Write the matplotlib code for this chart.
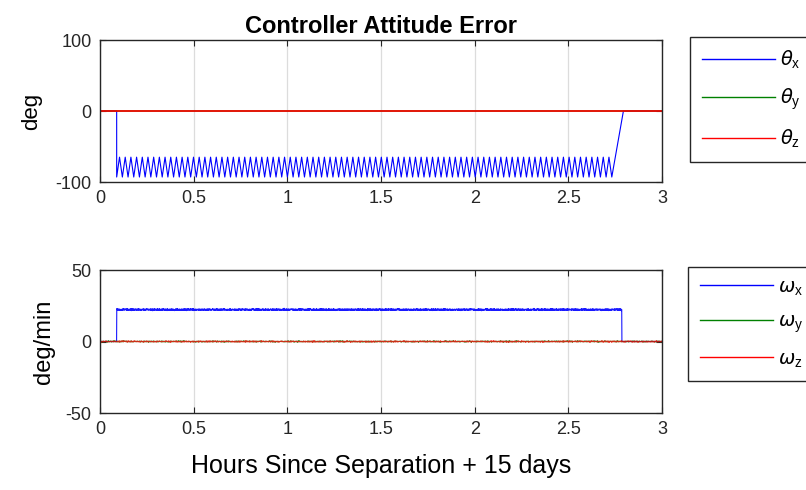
import numpy as np
import matplotlib
matplotlib.use("Agg")
import matplotlib.pyplot as plt

plt.rcParams['font.family'] = ['Liberation Sans', 'DejaVu Sans']
plt.rcParams['mathtext.fontset'] = 'custom'
plt.rcParams['mathtext.rm'] = 'Liberation Sans'
plt.rcParams['mathtext.it'] = 'DejaVu Sans:italic'

# ---- data ----
title = "Controller Attitude Error"
xlabel = "Hours Since Separation + 15 days"
x_ticks = [0, 0.5, 1, 1.5, 2, 2.5, 3]
x_tick_labels = ["0", "0.5", "1", "1.5", "2", "2.5", "3"]
att_ticks = [-100, 0, 100]
rate_ticks = [-50, 0, 50]

# slew window (hours)
slew_start = 0.089
slew_hold_end = 2.732
slew_end = 2.794
rate_end = 2.785

# theta_x limit cycle band (deg) and number of cycles
theta_x_low = -93.0
theta_x_high = -65.0
theta_x_cycles = 87

# commanded rate plateau (deg/min)
omega_x_level = 22.3
omega_noise = 0.4

# ---- build series ----
t = np.linspace(0, 3, 6001)

# attitude error about x: zero, step to the band, zig-zag, ramp back to zero
turn_t = np.linspace(slew_start, slew_hold_end, 2 * theta_x_cycles + 1)
turn_v = np.where(np.arange(turn_t.size) % 2 == 0, theta_x_low, theta_x_high)
theta_t = np.concatenate([[0, slew_start], turn_t, [slew_end, 3.0]])
theta_v = np.concatenate([[0, 0], turn_v, [0, 0]])
theta_y = np.zeros_like(t)
theta_z = np.zeros_like(t)

rng = np.random.default_rng(3)
on = (t >= slew_start) & (t <= rate_end)
omega_x = np.where(on, omega_x_level, 0.0) + rng.normal(0, omega_noise * 0.6, t.size) * on
omega_y = rng.normal(0, omega_noise * 0.5, t.size)
omega_z = rng.normal(0, omega_noise * 0.5, t.size)

# ---- figure ----
W, H = 806, 490
fig = plt.figure(figsize=(W / 100, H / 100), dpi=100)
blue, green, red = (0, 0, 1), (0, 0.5, 0), (1, 0, 0)
edge = '#262626'

def style(ax, yticks, ylim):
    ax.set_xlim(0, 3)
    ax.set_ylim(*ylim)
    ax.set_xticks(x_ticks)
    ax.set_xticklabels(x_tick_labels)
    ax.set_yticks(yticks)
    ax.set_yticklabels([str(v) for v in yticks])
    ax.tick_params(direction='in', top=True, right=True, length=4,
                   labelsize=13, colors=edge, pad=6)
    ax.grid(axis='x', color='#dcdcdc', linewidth=0.9)
    ax.set_axisbelow(True)
    for s in ax.spines.values():
        s.set_color(edge)
        s.set_linewidth(1.0)

ax1 = fig.add_axes([100 / W, 1 - 182 / H, 562 / W, 142 / H])
l1, = ax1.plot(theta_t, theta_v, color=blue, lw=0.8, label=r'$\theta_\mathrm{x}$')
l2, = ax1.plot(t, theta_y, color=green, lw=1.0, label=r'$\theta_\mathrm{y}$')
l3, = ax1.plot(t, theta_z, color=red, lw=1.2, label=r'$\theta_\mathrm{z}$')
style(ax1, att_ticks, (-100, 100))
ax1.set_ylabel("deg", fontsize=16, labelpad=10)
ax1.set_title(title, fontsize=17, fontweight='bold', pad=5)

ax2 = fig.add_axes([100 / W, 1 - 413 / H, 562 / W, 143 / H])
m1, = ax2.plot(t, omega_x, color=blue, lw=0.8, alpha=0.9, label=r'$\omega_\mathrm{x}$')
m2, = ax2.plot(t, omega_y, color=green, lw=0.6, alpha=0.7, label=r'$\omega_\mathrm{y}$')
m3, = ax2.plot(t, omega_z, color=red, lw=0.6, alpha=0.7, label=r'$\omega_\mathrm{z}$')
style(ax2, rate_ticks, (-50, 50))
ax2.set_ylabel("deg/min", fontsize=17, labelpad=8)
ax2.set_xlabel(xlabel, fontsize=18, labelpad=11)

leg_kw = dict(loc='upper left', fontsize=14, handlelength=3.75, labelspacing=0.8,
              borderpad=0.6, handletextpad=0.3, fancybox=False, framealpha=1,
              edgecolor=edge, borderaxespad=0)
lg1 = fig.legend(handles=[l1, l2, l3], bbox_to_anchor=(690 / W, 1 - 37 / H), **leg_kw)
lg2 = fig.legend(handles=[m1, m2, m3], bbox_to_anchor=(688 / W, 1 - 267 / H), **leg_kw)
for lg in (lg1, lg2):
    for h in lg.legend_handles:
        h.set_linewidth(1.0)
        h.set_alpha(1)

fig.savefig("out.png", dpi=100)
